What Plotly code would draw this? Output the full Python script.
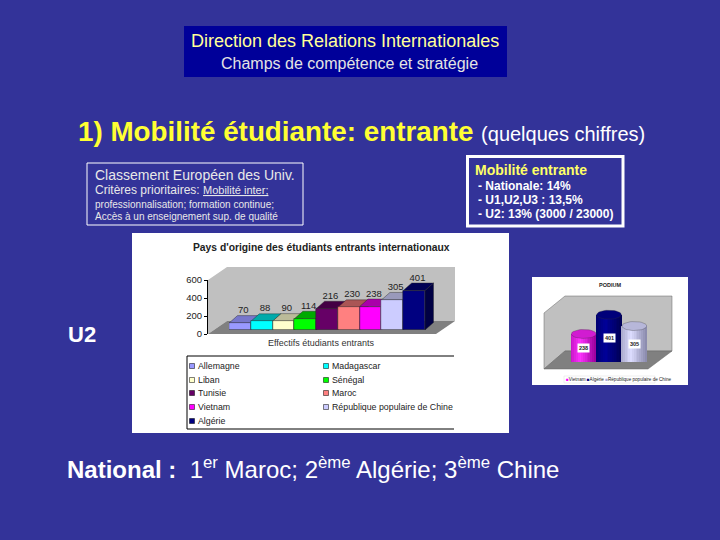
import numpy as np
import plotly.graph_objects as go

W, H = 720, 540
BG = "#333399"
FONT = "Liberation Sans, Arial, sans-serif"

# ---------- data ----------
countries = ["Allemagne", "Madagascar", "Liban", "Sénégal", "Tunisie", "Maroc",
             "Vietnam", "République populaire de Chine", "Algérie"]
students = [70, 88, 90, 114, 216, 230, 238, 305, 401]
front_colors = ["#9999FF", "#00FFFF", "#FFFFCC", "#00FF00", "#660066", "#FF8080",
                "#FF00FF", "#CCCCFF", "#000080"]
top_colors = ["#7777CC", "#00AAAA", "#BBBB99", "#00AA00", "#440044", "#AA5555",
              "#AA00AA", "#9999BB", "#000055"]
side_colors = ["#6666AA", "#008888", "#999977", "#008800", "#330033", "#884444",
               "#880088", "#777799", "#000044"]
y_ticks = [0, 200, 400, 600]

podium_names = ["Vietnam", "Algérie", "République populaire de Chine"]
podium_values = [238, 401, 305]
podium_dark = ["#990099", "#000055", "#8888AA"]
podium_light = ["#FF33FF", "#000099", "#DDDDFF"]


def px(x):
    return x / W


def py(y):
    return 1 - y / H


fig = go.Figure()
shapes = []
ann = []


def rect(x0, y0, x1, y1, fill="rgba(0,0,0,0)", line=None, lw=1):
    shapes.append(dict(type="rect", xref="paper", yref="paper", x0=px(x0), x1=px(x1),
                       y0=py(y1), y1=py(y0), fillcolor=fill, layer="below",
                       line=dict(color=line, width=lw) if line else dict(width=0)))


def poly(pts, fill, line=None):
    path = "M " + " L ".join(f"{px(a):.5f},{py(b):.5f}" for a, b in pts) + " Z"
    shapes.append(dict(type="path", xref="paper", yref="paper", path=path, fillcolor=fill,
                       layer="below", line=dict(color=line, width=0.5) if line else dict(width=0)))


def seg(x0, y0, x1, y1, color="#000000", lw=1):
    shapes.append(dict(type="line", xref="paper", yref="paper", x0=px(x0), x1=px(x1),
                       y0=py(y0), y1=py(y1), line=dict(color=color, width=lw), layer="below"))


def text(x, y, s, size, color, anchor="left", bold=False, bg=None):
    if bold:
        s = f"<b>{s}</b>"
    a = dict(xref="paper", yref="paper", x=px(x), y=py(y), text=s, showarrow=False,
             xanchor=anchor, yanchor="middle", align=anchor,
             font=dict(family=FONT, size=size, color=color),
             borderpad=0, borderwidth=0)
    if bg:
        a["bgcolor"] = bg
    ann.append(a)


# ---------- slide text and panels ----------
rect(184, 26, 507, 77, fill="#000099")
text(344.5, 41, "Direction des Relations Internationales", 18, "#FFFF99", "center")
text(349.5, 63.5, "Champs de compétence et stratégie", 16, "#E4E4E4", "center")
text(78, 131.5, "<b>1) Mobilité étudiante: entrante</b> <span style='font-size:20px;color:#FFFFFF'>(quelques chiffres)</span>",
     27.8, "#FFFF33", "left")

rect(87, 163, 303, 225, line="#FFFFFF", lw=1)
text(95, 175, "Classement Européen des Univ.", 14, "#E8E8E8")
text(95, 190, "Critères prioritaires: <span style='font-size:11px'><u>Mobilité inter;</u></span>", 12, "#E8E8E8")
text(95, 204, "professionnalisation; formation continue;", 10, "#E8E8E8")
text(95, 216, "Accès à un enseignement sup. de qualité", 10, "#E8E8E8")

rect(467.5, 156.5, 623, 226, line="#FFFFFF", lw=3)
text(475, 170, "Mobilité entrante", 14, "#FFFF66", bold=True)
text(478, 186, "- Nationale: 14%", 12, "#FFFFFF", bold=True)
text(478, 200, "- U1,U2,U3 : 13,5%", 12, "#FFFFFF", bold=True)
text(478, 214, "- U2: 13% (3000 / 23000)", 12, "#FFFFFF", bold=True)

text(68, 334, "U2", 22, "#FFFFFF", bold=True)
text(67, 468, "<b>National :</b>&nbsp;&nbsp;1<sup>er</sup> Maroc; 2<sup>ème</sup> Algérie; 3<sup>ème</sup> Chine",
     24, "#FFFFFF")

# ---------- main chart panel ----------
rect(132, 233, 509, 433, fill="#FFFFFF")
text(321, 247, "Pays d'origine des étudiants entrants internationaux", 10.3, "#222222", "center", bold=True)
text(321, 343, "Effectifs étudiants entrants", 9, "#333333", "center")

# walls and floor of the 3D box
poly([(208, 280), (227, 267), (455, 267), (455, 321), (227, 321), (208, 334)], "#C0C0C0")
poly([(208, 334), (227, 321), (455, 321), (436, 334)], "#808080")

# legend frame
seg(187, 356, 454, 356)
seg(187, 356, 187, 429)
seg(187, 429, 454, 429)
rows = [366, 380, 393, 407, 421]
for i, (name, col) in enumerate(zip(countries, front_colors)):
    lx = 192 if i % 2 == 0 else 326
    ly = rows[i // 2]
    rect(lx - 2.5, ly - 2.5, lx + 2.5, ly + 2.5, fill=col, line="#000000", lw=0.5)
    text(lx + 6, ly, name, 8.8, "#222222")

# Axis geometry of the main chart, in pixels
X_L, X_R = 229, 425          # bar run
Y_B, SCALE = 330, 0.0985     # bar baseline, px per student
DEPTH_X, DEPTH_Y = 8.5, 7.5  # depth of a bar in pixels

# axis carrying the ticks
fig.add_trace(go.Scatter(x=[0], y=[0], mode="markers", marker=dict(opacity=0), xaxis="x", yaxis="y",
                         hoverinfo="skip", showlegend=False))

n = len(students)
bar_top = 600
unit = (X_R - X_L) / n
dx = DEPTH_X / unit
dy = DEPTH_Y / SCALE
y_dom = [py(Y_B), py(Y_B - bar_top * SCALE)]
x_dom = [px(X_L), px(X_R + 30)]
x_rng = [-0.5, -0.5 + (X_R + 30 - X_L) / unit]

# depth faces from the values (axes 2)
for i, (v, tc, sc) in enumerate(zip(students, top_colors, side_colors)):
    l, r = i - 0.5, i + 0.5
    fig.add_trace(go.Scatter(x=[r, r + dx, r + dx, r, r], y=[0, dy, v + dy, v, 0], fill="toself", mode="lines",
                             fillcolor=sc, line=dict(color="#222222", width=0.4),
                             xaxis="x2", yaxis="y2", hoverinfo="skip", showlegend=False))
    fig.add_trace(go.Scatter(x=[l, l + dx, r + dx, r, l], y=[v, v + dy, v + dy, v, v], fill="toself", mode="lines",
                             fillcolor=tc, line=dict(color="#222222", width=0.4),
                             xaxis="x2", yaxis="y2", hoverinfo="skip", showlegend=False))

# front faces (axes 3)
fig.add_trace(go.Bar(x=list(range(n)), y=students, width=1.0,
                     marker=dict(color=front_colors, line=dict(color="#222222", width=0.5)),
                     xaxis="x3", yaxis="y3", showlegend=False, hoverinfo="skip"))
fig.add_trace(go.Scatter(x=[i + dx * 0.4 for i in range(n)], y=[v + dy for v in students], mode="text",
                         text=[str(v) for v in students], textposition="top center",
                         textfont=dict(family=FONT, size=9.5, color="#222222"),
                         xaxis="x3", yaxis="y3", showlegend=False, hoverinfo="skip", cliponaxis=False))

# ---------- podium panel ----------
rect(532, 277, 688, 385, fill="#FFFFFF")
text(610, 285, "PODIUM", 5.5, "#222222", "center", bold=True)
poly([(544, 313), (565, 296), (672, 296), (672, 351), (565, 351), (544, 369)], "#C0C0C0", "#666666")
poly([(544, 369), (565, 351), (672, 351), (648, 369)], "#808080", "#666666")
rect(564, 376, 655, 383, fill="#FFFFFF", line="#DDDDDD", lw=0.5)
text(565.5, 379.5, "<span style='color:#FF00FF'>■</span>Vietnam <span style='color:#000080'>■</span>Algérie "
                   "<span style='color:#AAAADD'>■</span>République populaire de Chine", 4.6, "#222222")

P_L, P_R = 571, 647
P_BOTTOM = 362
P_SCALE = 0.118
P_TOP = 500
STRIPS = 14
ry = 4.5
th = np.linspace(0, 2 * np.pi, 40)


def hexmix(a, b, t):
    ca = [int(a[i:i + 2], 16) for i in (1, 3, 5)]
    cb = [int(b[i:i + 2], 16) for i in (1, 3, 5)]
    return "#" + "".join(f"{int(round(p + (q - p) * t)):02X}" for p, q in zip(ca, cb))


half_y = ry / P_SCALE
half_x = 0.49
off = np.linspace(-0.46, 0.46, STRIPS)
w = 0.98 / STRIPS * 1.1
for i, (v, dk, lt) in enumerate(zip(podium_values, podium_dark, podium_light)):
    t = np.clip(1 - np.abs(off + 0.12) / 0.62, 0, 1)
    for o, q in zip(off, t):
        # strip base follows the lower edge of the cylinder
        base = -half_y * np.sqrt(max(0.0, 1 - (o / half_x) ** 2))
        fig.add_trace(go.Bar(x=[i + o], y=[v - base], base=[base], width=w,
                             marker=dict(color=hexmix(dk, lt, float(q)), line=dict(width=0)),
                             xaxis="x4", yaxis="y4", hoverinfo="skip", showlegend=False))
    fig.add_trace(go.Scatter(x=i + half_x * np.cos(th), y=v + half_y * np.sin(th), fill="toself", mode="lines",
                             fillcolor=hexmix(dk, lt, 0.55), line=dict(color="#333333", width=0.3),
                             xaxis="x4", yaxis="y4", hoverinfo="skip", showlegend=False))
    ann.append(dict(xref="x4", yref="y4", x=i, y=v * 0.5, text=f"<b>{v}</b>", showarrow=False,
                    bgcolor="#FFFFFF", borderpad=1, font=dict(family=FONT, size=5.5, color="#222222")))

# ---------- layout ----------
hidden = dict(visible=False, fixedrange=True, automargin=False)
fig.update_layout(
    width=W, height=H, autosize=False,
    margin=dict(l=0, r=0, t=0, b=0, pad=0, autoexpand=False),
    paper_bgcolor=BG, plot_bgcolor="rgba(0,0,0,0)",
    showlegend=False, barmode="overlay", bargap=0,
    shapes=shapes, annotations=ann,
    xaxis=dict(domain=[px(208), px(436)], range=[0, 1], **hidden),
    yaxis=dict(domain=[py(334), py(280)], range=[0, 600], tickvals=y_ticks, anchor="x", automargin=False,
               ticks="outside", ticklen=3, tickwidth=1, tickcolor="#000000", showgrid=False, zeroline=False,
               showline=True, linecolor="#000000", linewidth=1, side="left",
               tickfont=dict(family=FONT, size=9.5, color="#222222"), fixedrange=True),
    xaxis2=dict(domain=x_dom, range=x_rng, anchor="y2", **hidden),
    yaxis2=dict(domain=y_dom, range=[0, bar_top], anchor="x2", **hidden),
    xaxis3=dict(domain=x_dom, range=x_rng, anchor="y3", **hidden),
    yaxis3=dict(domain=y_dom, range=[0, bar_top], anchor="x3", **hidden),
    xaxis4=dict(domain=[px(P_L), px(P_R)], range=[-0.5, 2.5], anchor="y4", **hidden),
    yaxis4=dict(domain=[py(P_BOTTOM), py(P_BOTTOM - P_TOP * P_SCALE)], range=[0, P_TOP], anchor="x4", **hidden),
)
fig.write_html("out.html", config=dict(displayModeBar=False), post_script=(
    "document.documentElement.style.background='#333399';"
    "document.body.style.margin='0';document.body.style.background='#333399';"
    "document.body.style.overflow='hidden';"))
